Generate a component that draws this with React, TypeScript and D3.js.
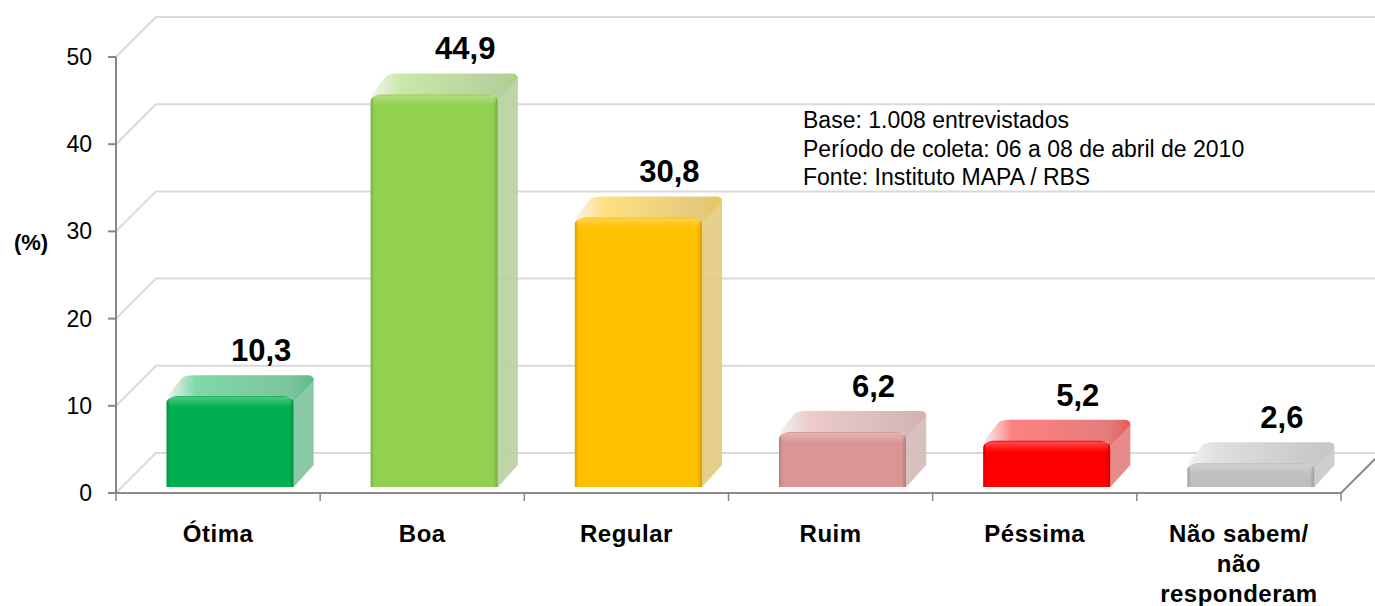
import React, { useEffect, useRef } from "react";
import * as d3 from "d3";

// data
const categories = ["Ótima", "Boa", "Regular", "Ruim", "Péssima", "Não sabem/\nnão\nresponderam"];
const values = [10.3, 44.9, 30.8, 6.2, 5.2, 2.6];
const barColors = ["#00B050", "#92D050", "#FFC000", "#D99694", "#FF0000", "#BFBFBF"];
const yTicks = [0, 10, 20, 30, 40, 50];
const notes = [
  "Base: 1.008 entrevistados",
  "Período de coleta: 06 a 08 de abril de 2010",
  "Fonte: Instituto MAPA / RBS",
];

const FONT = "Arial, 'Liberation Sans', sans-serif";

const App = () => {
  const svgRef = useRef<SVGSVGElement>(null);

  useEffect(() => {
    const width = 1375;
    const height = 606;
    const depth = 40; // floor depth (oblique)
    const front = { dx: 12, dy: -6 }; // bar front plane
    const side = { dx: 20, dy: -22 }; // bar depth

    const svg = d3.select(svgRef.current);
    svg.selectAll("*").remove();
    svg.attr("width", width).attr("height", height);

    const x = d3
      .scaleBand()
      .domain(categories)
      .range([116, 1341])
      .paddingInner(0.377)
      .paddingOuter(0.377 / 2);
    const step = x.step();
    const x0 = 116;
    const x1 = 1341;

    const y = d3.scaleLinear().domain([0, 50]).range([493, 57]);

    const defs = svg.append("defs");
    const fmt = (v: number) => d3.format(".1f")(v).replace(".", ",");

    // back wall gridlines + left diagonals
    const grid = svg.append("g").attr("stroke", "#d9d9d9").attr("stroke-width", 2).attr("fill", "none");
    yTicks.forEach((t) => {
      grid
        .append("path")
        .attr("d", `M${x0},${y(t)} L${x0 + depth},${y(t) - depth} L${width + 5},${y(t) - depth}`);
    });

    // floor front edge and right edge
    svg
      .append("path")
      .attr("d", `M${x0},${y(0)} L${x1},${y(0)} L${x1 + depth},${y(0) - depth}`)
      .attr("fill", "none")
      .attr("stroke", "#8c8c8c")
      .attr("stroke-width", 2);

    // bars
    const bars = svg.append("g");
    categories.forEach((c, i) => {
      const col = d3.color(barColors[i])!;
      const sideCol = d3.interpolateRgb(barColors[i], "#d0d0d0")(0.6);
      const topLight = d3.interpolateRgb(barColors[i], "#ffffff")(0.5);
      const dark = col.darker(0.5).formatHex();

      const fg = defs.append("linearGradient").attr("id", `front${i}`).attr("x1", 0).attr("x2", 1);
      fg.append("stop").attr("offset", "0%").attr("stop-color", dark);
      fg.append("stop").attr("offset", "3%").attr("stop-color", barColors[i]);
      fg.append("stop").attr("offset", "96%").attr("stop-color", barColors[i]);
      fg.append("stop").attr("offset", "100%").attr("stop-color", dark);

      const fv = defs.append("linearGradient").attr("id", `frontv${i}`).attr("x1", 0).attr("x2", 0).attr("y1", 0).attr("y2", 1);
      fv.append("stop").attr("offset", "0%").attr("stop-color", "#ffffff").attr("stop-opacity", 0.3);
      fv.append("stop").attr("offset", "100%").attr("stop-color", "#ffffff").attr("stop-opacity", 0);

      const tg = defs.append("linearGradient").attr("id", `top${i}`).attr("x1", 0).attr("x2", 1);
      tg.append("stop").attr("offset", "0%").attr("stop-color", "#f4f4f4");
      tg.append("stop").attr("offset", "20%").attr("stop-color", topLight);
      tg.append("stop").attr("offset", "85%").attr("stop-color", sideCol);
      tg.append("stop").attr("offset", "100%").attr("stop-color", d3.interpolateRgb(sideCol, barColors[i])(0.3));

      const bx = x(c)! + front.dx;
      const bw = x.bandwidth();
      const bottom = y(0) + front.dy;
      const top = y(values[i]) + front.dy;
      const r = 6;

      // side face
      bars
        .append("path")
        .attr(
          "d",
          `M${bx + bw},${bottom} L${bx + bw + side.dx},${bottom + side.dy} L${bx + bw + side.dx},${top + side.dy + 4} L${bx + bw},${top}Z`
        )
        .attr("fill", sideCol)
        .attr("fill-opacity", 0.9);

      // top face
      bars
        .append("path")
        .attr(
          "d",
          `M${bx},${top} L${bx + side.dx - 4},${top + side.dy + 2} Q${bx + side.dx},${top + side.dy} ${bx + side.dx + 6},${top + side.dy}` +
            ` L${bx + bw + side.dx - 6},${top + side.dy} Q${bx + bw + side.dx},${top + side.dy} ${bx + bw + side.dx},${top + side.dy + 5}` +
            ` L${bx + bw},${top + 4} Z`
        )
        .attr("fill", `url(#top${i})`);

      // front face with rounded top edge
      bars
        .append("path")
        .attr(
          "d",
          `M${bx},${bottom} L${bx},${top + r} Q${bx},${top} ${bx + r + 4},${top - 1} L${bx + bw - r - 4},${top - 1} Q${bx + bw},${top} ${bx + bw},${top + r} L${bx + bw},${bottom}Z`
        )
        .attr("fill", `url(#front${i})`);
      bars
        .append("rect")
        .attr("x", bx + 2)
        .attr("y", top)
        .attr("width", bw - 4)
        .attr("height", Math.min(10, bottom - top))
        .attr("fill", `url(#frontv${i})`);

      // value label
      bars
        .append("text")
        .attr("x", bx + bw / 2 + 31)
        .attr("y", top + side.dy - 14)
        .attr("text-anchor", "middle")
        .attr("font-family", FONT)
        .attr("font-weight", "bold")
        .attr("font-size", 31)
        .attr("fill", "#000")
        .text(fmt(values[i]));
    });

    // y axis
    const ax = svg.append("g").attr("stroke", "#868686").attr("stroke-width", 2);
    ax.append("line").attr("x1", x0).attr("x2", x0).attr("y1", y(50)).attr("y2", y(0) + 1);
    yTicks.forEach((t) => {
      ax.append("line").attr("x1", x0 - 8).attr("x2", x0).attr("y1", y(t)).attr("y2", y(t));
    });
    d3.range(categories.length + 1).forEach((k) => {
      const tx = x0 + k * step;
      ax.append("line").attr("x1", tx).attr("x2", tx).attr("y1", y(0)).attr("y2", y(0) + 8).attr("stroke-width", 1.5);
    });

    svg
      .append("g")
      .selectAll("text")
      .data(yTicks)
      .join("text")
      .attr("x", 92)
      .attr("y", (d) => y(d) + 8)
      .attr("text-anchor", "end")
      .attr("font-family", FONT)
      .attr("font-size", 23)
      .attr("fill", "#000")
      .text((d) => d);

    svg
      .append("text")
      .attr("x", 31)
      .attr("y", 250)
      .attr("text-anchor", "middle")
      .attr("font-family", FONT)
      .attr("font-weight", "bold")
      .attr("font-size", 22)
      .text("(%)");

    // category labels
    const cat = svg.append("g");
    categories.forEach((c, i) => {
      const t = cat
        .append("text")
        .attr("text-anchor", "middle")
        .attr("font-family", FONT)
        .attr("font-weight", "bold")
        .attr("font-size", 24)
        .attr("letter-spacing", 0.5)
        .attr("fill", "#000");
      c.split("\n").forEach((line, j) => {
        t.append("tspan")
          .attr("x", x0 + i * step + step / 2)
          .attr("y", 542 + j * 30)
          .text(line);
      });
    });

    // notes box
    svg
      .append("g")
      .selectAll("text")
      .data(notes)
      .join("text")
      .attr("x", 803)
      .attr("y", (d, i) => 128 + i * 28.5)
      .attr("font-family", FONT)
      .attr("font-size", 23)
      .attr("fill", "#000")
      .text((d) => d);
  }, []);

  return (
    <div style={{ position: "absolute", left: 0, top: 0, background: "#fff" }}>
      <svg ref={svgRef} style={{ display: "block" }}></svg>
    </div>
  );
};

export default App;
